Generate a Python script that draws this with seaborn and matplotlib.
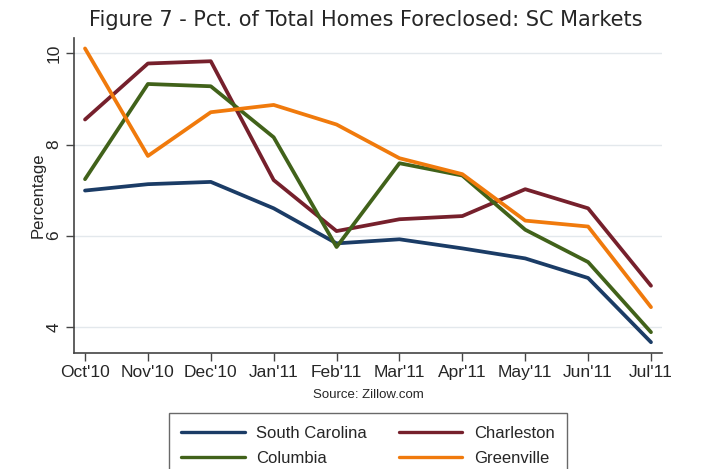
"""Figure 7 - share of total homes foreclosed, SC markets."""
import matplotlib

matplotlib.use("Agg")
import matplotlib.pyplot as plt
import pandas as pd
import seaborn as sns

months = ["Oct'10", "Nov'10", "Dec'10", "Jan'11", "Feb'11",
          "Mar'11", "Apr'11", "May'11", "Jun'11", "Jul'11"]
south_carolina = [6.99, 7.13, 7.18, 6.60, 5.83, 5.92, 5.72, 5.50, 5.07, 3.66]
charleston = [8.55, 9.78, 9.83, 7.22, 6.10, 6.36, 6.43, 7.02, 6.60, 4.90]
columbia = [7.24, 9.33, 9.28, 8.16, 5.75, 7.59, 7.32, 6.13, 5.42, 3.88]
greenville = [10.11, 7.75, 8.71, 8.87, 8.44, 7.70, 7.35, 6.33, 6.20, 4.43]

series = {
    "South Carolina": south_carolina,
    "Charleston": charleston,
    "Columbia": columbia,
    "Greenville": greenville,
}
colors = {
    "South Carolina": "#1b3c66",
    "Charleston": "#76202c",
    "Columbia": "#41621a",
    "Greenville": "#f07a0c",
}

frames = []
for market, vals in series.items():
    frames.append(pd.DataFrame({"Month": range(len(months)), "Pct": vals, "Market": market}))
df = pd.concat(frames, ignore_index=True)

sns.set_style("white")
plt.rcParams["font.family"] = ["Liberation Sans", "DejaVu Sans"]

fig = plt.figure(figsize=(7.09, 4.69), dpi=100)
ax = fig.add_axes([0.1044, 0.248, 0.8293, 0.671])

sns.lineplot(data=df, x="Month", y="Pct", hue="Market", palette=colors,
             hue_order=list(series), linewidth=2.7, ax=ax, legend=False)

ax.set_xlim(-0.175, 9.175)
ax.set_ylim(3.43, 10.34)
ax.set_xticks(range(len(months)))
ax.set_xticklabels(months, fontsize=12.5)
ax.set_yticks([4, 6, 8, 10])
ax.set_yticklabels(["4", "6", "8", "10"], fontsize=12.5, rotation=90, va="center")
ax.grid(axis="y", color="#e3e8ec", linewidth=1.0)
ax.set_axisbelow(True)
ax.tick_params(axis="both", direction="out", length=6, width=1, color="#444444",
               left=True, bottom=True, pad=3)
for side in ["top", "right"]:
    ax.spines[side].set_visible(False)
for side in ["left", "bottom"]:
    ax.spines[side].set_color("#444444")
    ax.spines[side].set_linewidth(1.2)

ax.set_xlabel("")
ax.set_ylabel("Percentage", fontsize=12, labelpad=1)

fig.text(366 / 709, 1 - 20 / 469, "Figure 7 - Pct. of Total Homes Foreclosed: SC Markets",
         ha="center", va="center", fontsize=15, family="DejaVu Sans")
fig.text(368 / 709, 1 - 395 / 469, "Source: Zillow.com", ha="center", va="center", fontsize=9.5)

# legend filled row-wise like the original: SC, Charleston / Columbia, Greenville
lines = {m: plt.Line2D([], [], color=c, linewidth=2.4) for m, c in colors.items()}
order = ["South Carolina", "Columbia", "Charleston", "Greenville"]
leg = fig.legend([lines[m] for m in order], order, ncol=2, loc="upper center",
                 bbox_to_anchor=(368 / 709, 1 - 413 / 469), fontsize=12,
                 frameon=True, fancybox=False, handlelength=3.8, handletextpad=0.7,
                 columnspacing=1.9, borderpad=0.75, labelspacing=0.6, borderaxespad=0)
leg.get_frame().set_edgecolor("#444444")
leg.get_frame().set_linewidth(1.0)

fig.savefig("out.png", dpi=100)
